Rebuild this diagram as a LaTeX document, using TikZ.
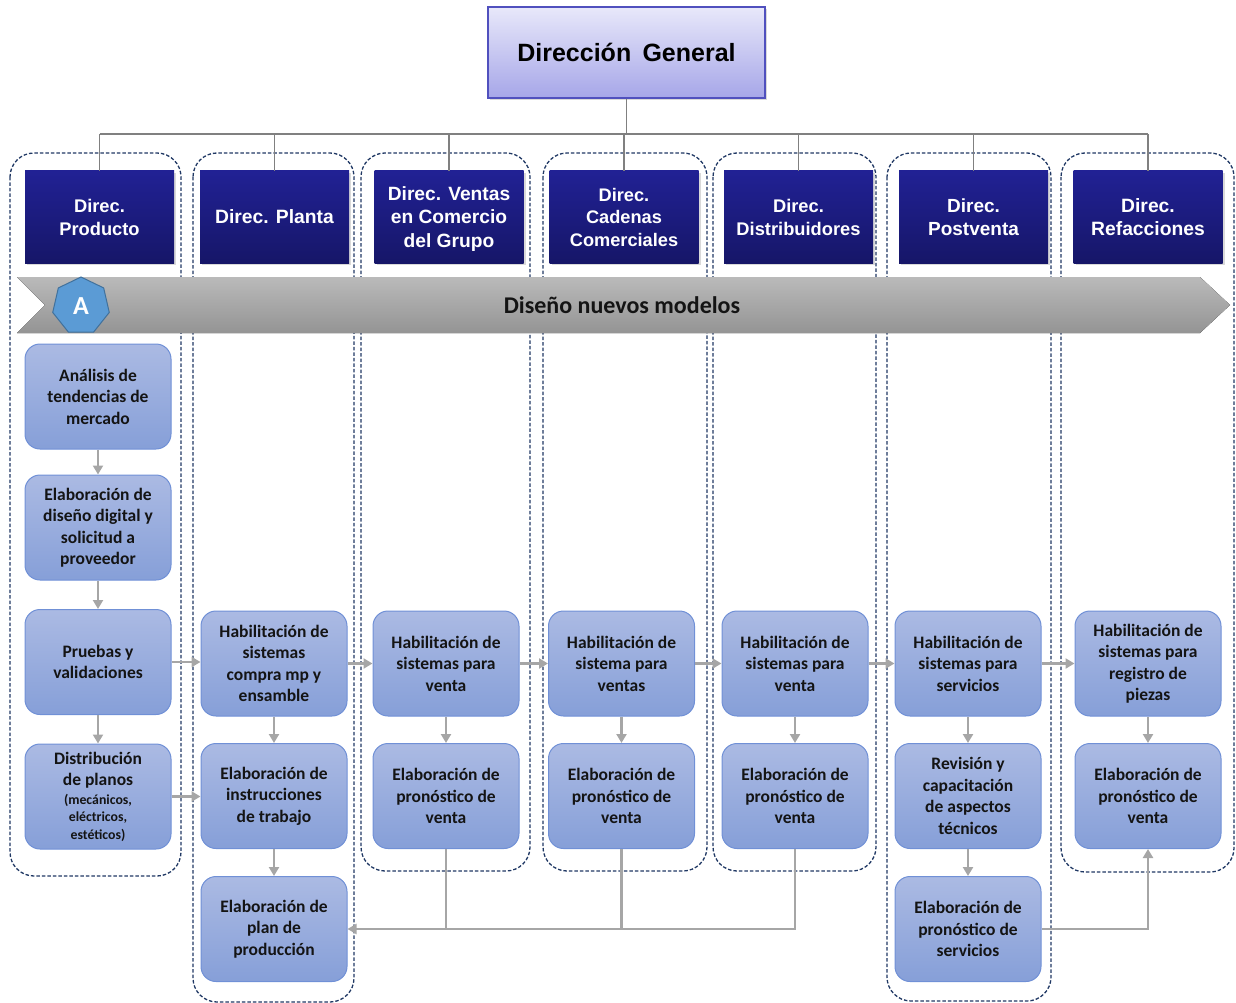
\documentclass[tikz,border=0pt]{standalone}
\usepackage{fontspec}
\setmainfont{Carlito}
\newfontfamily\hdrfont{Liberation Sans}
\usetikzlibrary{shapes.geometric,arrows.meta,shadows}

\definecolor{navyT}{RGB}{33,33,148}
\definecolor{navyB}{RGB}{22,22,104}
\definecolor{procT}{RGB}{171,186,227}
\definecolor{procB}{RGB}{134,159,216}
\definecolor{procD}{RGB}{112,144,214}
\definecolor{grpD}{RGB}{32,56,100}
\definecolor{conn}{RGB}{166,166,166}
\definecolor{treec}{RGB}{128,128,128}
\definecolor{dgT}{RGB}{232,232,250}
\definecolor{dgB}{RGB}{166,166,232}
\definecolor{dgD}{RGB}{80,80,190}
\definecolor{banT}{RGB}{186,186,186}
\definecolor{banB}{RGB}{148,148,148}
\definecolor{hexF}{RGB}{91,155,213}
\definecolor{hexD}{RGB}{65,113,156}
\definecolor{txt}{RGB}{20,20,20}

\begin{document}
\begin{tikzpicture}[x=1pt,y=-1pt,
 hdr/.style={rectangle, minimum width=149pt, minimum height=92pt, inner sep=0pt,
   top color=navyT, bottom color=navyB, text=white, text depth=0pt,
   font=\hdrfont\bfseries\fontsize{18.8}{23.5}\selectfont, align=center,
   drop shadow={shadow xshift=2pt, shadow yshift=-2pt, opacity=0.3}},
 proc/.style={rectangle, rounded corners=15pt, minimum width=146pt, minimum height=105pt,
   inner sep=0pt, top color=procT, bottom color=procB, draw=procD, line width=1pt,
   align=center, text=txt, font=\bfseries\fontsize{17.5}{21.5}\selectfont},
 grp/.style={draw=grpD, line width=1.3pt, dash pattern=on 3.5pt off 2pt, rounded corners=24pt},
 arr/.style={draw=conn, line width=2.5pt, -{Triangle[length=9pt,width=10pt]}},
 ln/.style={draw=conn, line width=2.5pt},
 treeln/.style={draw=treec, line width=1.5pt}]

\useasboundingbox (0,0) rectangle (1236,1003);
\clip (0,0) rectangle (1236,1003);

% group containers
\draw[grp] (10,153) rectangle (181,876);
\draw[grp] (193,153) rectangle (354,1002);
\draw[grp] (361,153) rectangle (530,871);
\draw[grp] (543,153) rectangle (707,871);
\draw[grp] (713,153) rectangle (876,871);
\draw[grp] (887,153) rectangle (1051,1001);
\draw[grp] (1061,153) rectangle (1234,872);

% top box
\node[rectangle, minimum width=277pt, minimum height=91pt, inner sep=0pt,
  top color=dgT, bottom color=dgB, draw=dgD, line width=1.5pt,
  font=\hdrfont\bfseries\fontsize{25}{30}\selectfont,
  drop shadow={shadow xshift=2pt, shadow yshift=-2pt, opacity=0.3}]
  (dg) at (626.5,52.5) {Dirección\hspace{0.45em}General};

% headers
\node[hdr, font=\hdrfont\bfseries\fontsize{18.3}{23}\selectfont] (h1) at (99.5,217) {Direc.\\Producto};
\node[hdr, font=\hdrfont\bfseries\fontsize{19.3}{23.5}\selectfont] (h2) at (274.5,217) {Direc. Planta};
\node[hdr, font=\hdrfont\bfseries\fontsize{19.2}{23.5}\selectfont] (h3) at (449,217) {Direc. Ventas\\en Comercio\\del Grupo};
\node[hdr, font=\hdrfont\bfseries\fontsize{18.2}{22.5}\selectfont] (h4) at (624,217) {Direc.\\Cadenas\\Comerciales};
\node[hdr, font=\hdrfont\bfseries\fontsize{18.3}{23}\selectfont] (h5) at (798.5,217) {Direc.\\Distribuidores};
\node[hdr, font=\hdrfont\bfseries\fontsize{19}{23}\selectfont] (h6) at (973.5,217) {Direc.\\Postventa};
\node[hdr, font=\hdrfont\bfseries\fontsize{19.3}{23}\selectfont] (h7) at (1148,217) {Direc.\\Refacciones};

% tree
\coordinate (bus) at (626,134);
\draw[treeln] (dg.south) -- (dg.south |- bus);
\draw[treeln] (h1.north |- bus) -- (h7.north |- bus);
\foreach \h in {h1,h2,h3,h4,h5,h6,h7}{
  \draw[treeln] (\h.north) -- (\h.north |- bus);
}

% banner
\fill[top color=banT, bottom color=banB] (17,277) -- (1200,277) -- (1230,305) -- (1200,333) -- (17,333) -- (45,305) -- cycle;
\node[font=\bfseries\fontsize{24}{28}\selectfont, text=txt] (ban) at (622,305) {Diseño nuevos modelos};
\node[regular polygon, regular polygon sides=7, minimum size=58pt, inner sep=0pt,
  fill=hexF, draw=hexD, line width=1pt, text=white,
  font=\bfseries\fontsize{26}{30}\selectfont] (hexA) at (81,306) {A};

% column 1
\node[proc] (p11) at (98,396.5) {Análisis de\\tendencias de\\mercado};
\node[proc] (p12) at (98,527.5) {Elaboración de\\diseño digital y\\solicitud a\\proveedor};
\node[proc] (p13) at (98,662) {Pruebas y\\validaciones};
\node[proc] (p14) at (98,796.5) {Distribución\\de planos\\[-3pt]{\fontsize{13.8}{17}\selectfont (mecánicos,}\\[-4pt]{\fontsize{13.8}{17}\selectfont eléctricos,}\\[-4pt]{\fontsize{13.8}{17}\selectfont estéticos)}};

% column 2
\node[proc] (c21) at (274,663.5) {Habilitación de\\sistemas\\compra mp y\\ensamble};
\node[proc] (c22) at (274,796) {Elaboración de\\instrucciones\\de trabajo};
\node[proc] (c23) at (274,929) {Elaboración de\\plan de\\producción};

% column 3
\node[proc] (c31) at (446,663.5) {Habilitación de\\sistemas para\\venta};
\node[proc] (c32) at (446,796) {Elaboración de\\pronóstico de\\venta};

% column 4
\node[proc] (c41) at (621.5,663.5) {Habilitación de\\sistema para\\ventas};
\node[proc] (c42) at (621.5,796) {Elaboración de\\pronóstico de\\venta};

% column 5
\node[proc] (c51) at (795,663.5) {Habilitación de\\sistemas para\\venta};
\node[proc] (c52) at (795,796) {Elaboración de\\pronóstico de\\venta};

% column 6
\node[proc] (c61) at (968,663.5) {Habilitación de\\sistemas para\\servicios};
\node[proc] (c62) at (968,796) {Revisión y\\capacitación\\de aspectos\\técnicos};
\node[proc] (c63) at (968,929) {Elaboración de\\pronóstico de\\servicios};

% column 7
\node[proc] (c71) at (1148,663.5) {Habilitación de\\sistemas para\\registro de\\piezas};
\node[proc] (c72) at (1148,796) {Elaboración de\\pronóstico de\\venta};

% vertical arrows
\draw[arr] (p11) -- (p12);
\draw[arr] (p12) -- (p13);
\draw[arr] (p13) -- (p14);
\draw[arr] (c21) -- (c22);
\draw[arr] (c22) -- (c23);
\draw[arr] (c31) -- (c32);
\draw[arr] (c41) -- (c42);
\draw[arr] (c51) -- (c52);
\draw[arr] (c61) -- (c62);
\draw[arr] (c62) -- (c63);
\draw[arr] (c71) -- (c72);

% horizontal arrows
\draw[arr] (p13.east) -- (p13.east -| c21.west);
\draw[arr] (p14.east) -- (p14.east -| c22.west);
\draw[arr] (c21) -- (c31);
\draw[arr] (c31) -- (c41);
\draw[arr] (c41) -- (c51);
\draw[arr] (c51) -- (c61);
\draw[arr] (c61) -- (c71);

% bottom connectors
\draw[ln] (c32.south) -- (c32.south |- c23.east);
\draw[ln] (c42.south) -- (c42.south |- c23.east);
\draw[arr] (c52.south) |- (c23.east);
\draw[arr] (c63.east) -| (c72.south);

\end{tikzpicture}
\end{document}
